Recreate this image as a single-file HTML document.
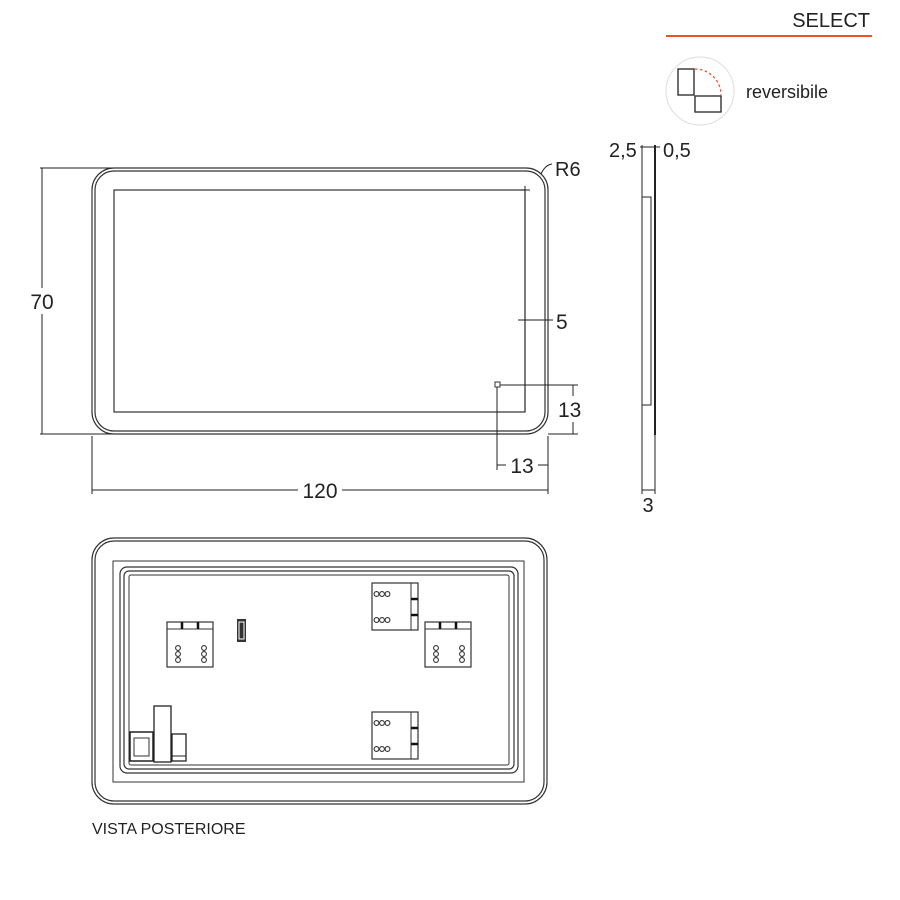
<!DOCTYPE html>
<html><head><meta charset="utf-8"><style>
html,body{margin:0;padding:0;background:#fff;width:900px;height:900px;overflow:hidden}
svg{display:block}
text{font-family:"Liberation Sans",sans-serif;fill:#222}
</style></head><body>
<svg width="900" height="900" viewBox="0 0 900 900" xmlns="http://www.w3.org/2000/svg">
<defs>
<g id="vb">
 <rect x="0" y="0" width="46" height="47" fill="#fff" stroke="#333" stroke-width="1.2"/>
 <line x1="39" y1="0" x2="39" y2="47" stroke="#333"/>
 <line x1="39" y1="16" x2="46" y2="16" stroke="#111" stroke-width="2.5"/>
 <line x1="39" y1="32" x2="46" y2="32" stroke="#111" stroke-width="2.5"/>
 <g fill="none" stroke="#333" stroke-width="1.1">
 <circle cx="4.5" cy="11" r="2.4"/><circle cx="10" cy="11" r="2.4"/><circle cx="15.5" cy="11" r="2.4"/>
 <circle cx="4.5" cy="37" r="2.4"/><circle cx="10" cy="37" r="2.4"/><circle cx="15.5" cy="37" r="2.4"/>
 </g>
</g>
<g id="hb">
 <rect x="0" y="0" width="46" height="45" fill="#fff" stroke="#333" stroke-width="1.2"/>
 <line x1="0" y1="7" x2="46" y2="7" stroke="#333"/>
 <line x1="15" y1="0" x2="15" y2="7" stroke="#111" stroke-width="2.5"/>
 <line x1="31" y1="0" x2="31" y2="7" stroke="#111" stroke-width="2.5"/>
 <g fill="none" stroke="#333" stroke-width="1.1">
 <circle cx="11" cy="26" r="2.4"/><circle cx="11" cy="32" r="2.4"/><circle cx="11" cy="38" r="2.4"/>
 <circle cx="37" cy="26" r="2.4"/><circle cx="37" cy="32" r="2.4"/><circle cx="37" cy="38" r="2.4"/>
 </g>
</g>
</defs>

<!-- header -->
<text x="870" y="27" font-size="20" text-anchor="end">SELECT</text>
<line x1="666" y1="36" x2="872" y2="36" stroke="#e8552b" stroke-width="2"/>
<circle cx="700" cy="91" r="34" fill="#fff" stroke="#ddd" stroke-width="1"/>
<rect x="678" y="69" width="16" height="26" fill="none" stroke="#222" stroke-width="1.3"/>
<rect x="695" y="96" width="26" height="16" fill="none" stroke="#222" stroke-width="1.3"/>
<path d="M695 69 A26 26 0 0 1 721 95" fill="none" stroke="#e8552b" stroke-width="1.3" stroke-dasharray="2.5,2.5"/>
<text x="746" y="98" font-size="18">reversibile</text>

<!-- front view -->
<g fill="none" stroke="#333">
<rect x="92" y="168" width="456" height="266" rx="22" stroke-width="1.2"/>
<rect x="95" y="171" width="450" height="260" rx="19" stroke-width="1.2"/>
<rect x="114" y="190" width="411" height="222" stroke-width="1.2"/>
</g>
<g stroke="#222" stroke-width="1" fill="none">
<line x1="42" y1="168" x2="42" y2="288"/>
<line x1="42" y1="314" x2="42" y2="434"/>
<line x1="40" y1="168" x2="112" y2="168"/>
<line x1="40" y1="434" x2="112" y2="434"/>
<line x1="92" y1="436" x2="92" y2="494"/>
<line x1="548" y1="436" x2="548" y2="494"/>
<line x1="92" y1="490" x2="298" y2="490"/>
<line x1="342" y1="490" x2="548" y2="490"/>
<line x1="525" y1="186" x2="525" y2="412"/>
<line x1="520" y1="190" x2="530" y2="190"/>
<line x1="518" y1="320" x2="553" y2="320"/>
<line x1="497" y1="385" x2="578" y2="385"/>
<line x1="548" y1="434" x2="578" y2="434"/>
<line x1="573" y1="385" x2="573" y2="396"/>
<line x1="573" y1="422" x2="573" y2="434"/>
<line x1="497" y1="387" x2="497" y2="470"/>
<line x1="548" y1="436" x2="548" y2="470"/>
<line x1="497" y1="465" x2="506" y2="465"/>
<line x1="538" y1="465" x2="548" y2="465"/>
<path d="M541 174 Q545 165 552 164"/>
</g>
<rect x="495" y="382" width="5" height="5" fill="#fff" stroke="#333"/>
<text x="42" y="309" font-size="21" text-anchor="middle">70</text>
<text x="320" y="498" font-size="21" text-anchor="middle">120</text>
<text x="556" y="329" font-size="21">5</text>
<text x="558" y="417" font-size="21">13</text>
<text x="522" y="473" font-size="21" text-anchor="middle">13</text>
<text x="555" y="176" font-size="20">R6</text>

<!-- side view -->
<g stroke="#222" fill="none">
<line x1="642" y1="145" x2="642" y2="494" stroke-width="1"/>
<line x1="655" y1="145" x2="655" y2="435" stroke-width="2"/>
<line x1="655" y1="435" x2="655" y2="494" stroke-width="1"/>
<rect x="642" y="197" width="9" height="208" stroke-width="1"/>
<line x1="642" y1="490" x2="655" y2="490"/>
<line x1="640" y1="147" x2="660" y2="147"/>
</g>
<text x="609" y="157" font-size="20">2,5</text>
<text x="663" y="157" font-size="20">0,5</text>
<text x="648" y="512" font-size="20" text-anchor="middle">3</text>

<!-- back view -->
<g fill="none" stroke="#333">
<rect x="92" y="538" width="455" height="266" rx="22" stroke-width="1.2"/>
<rect x="95" y="541" width="449" height="260" rx="19" stroke-width="1.2"/>
<rect x="113" y="561" width="411" height="221" stroke-width="1"/>
<rect x="120" y="567" width="398" height="206" rx="7" stroke-width="1.2"/>
<rect x="124" y="571" width="390" height="198" rx="5" stroke-width="1.2"/>
<rect x="129" y="575" width="380" height="190" rx="2" stroke-width="1"/>
</g>
<use href="#vb" x="372" y="583"/>
<use href="#vb" x="372" y="712"/>
<use href="#hb" x="167" y="622"/>
<use href="#hb" x="425" y="622"/>
<rect x="237" y="619" width="9" height="23" fill="#333"/>
<rect x="239" y="622" width="5" height="17" fill="none" stroke="#fff" stroke-width="1"/>
<rect x="130" y="732" width="23" height="29" fill="#fff" stroke="#222" stroke-width="1.5"/>
<rect x="134" y="738" width="15" height="18" fill="none" stroke="#333"/>
<rect x="154" y="706" width="17" height="56" fill="#fff" stroke="#222" stroke-width="1.3"/>
<rect x="172" y="734" width="14" height="27" fill="#fff" stroke="#222" stroke-width="1.3"/>
<line x1="172" y1="756" x2="186" y2="756" stroke="#222"/>
<text x="92" y="834" font-size="16">VISTA POSTERIORE</text>
</svg>
</body></html>
